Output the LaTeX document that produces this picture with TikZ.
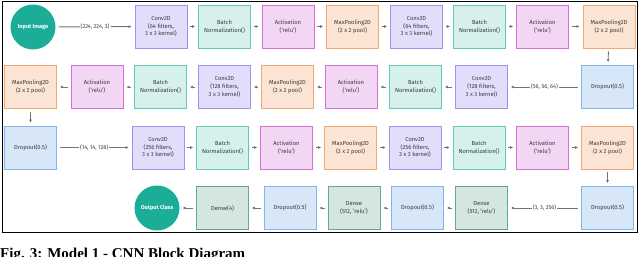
\documentclass[tikz,border=0pt]{standalone}
\usepackage{fontspec}
\setmainfont{Fira Sans}
\usetikzlibrary{arrows.meta}
\definecolor{convF}{HTML}{E2DDFB}\definecolor{convD}{HTML}{A391EE}
\definecolor{bnF}{HTML}{D6F1EC}\definecolor{bnD}{HTML}{62CBB8}
\definecolor{actF}{HTML}{F3D6F3}\definecolor{actD}{HTML}{D570D9}
\definecolor{mpF}{HTML}{FCE4D4}\definecolor{mpD}{HTML}{F3A872}
\definecolor{doF}{HTML}{D7E7F7}\definecolor{doD}{HTML}{82B5E8}
\definecolor{deF}{HTML}{D5E6DE}\definecolor{deD}{HTML}{64A98D}
\definecolor{circ}{HTML}{1CAD99}
\definecolor{arr}{HTML}{6E777D}
\definecolor{txt}{HTML}{3A3A3A}
\tikzset{
  x=1pt,y=1pt,
  blk/.style={rectangle,minimum width=52pt,minimum height=43pt,line width=0.9pt,
    align=center,font=\fontsize{5.8}{7.8}\selectfont,text=txt,inner sep=1pt},
  conv/.style={blk,fill=convF,draw=convD},
  bn/.style={blk,fill=bnF,draw=bnD},
  act/.style={blk,fill=actF,draw=actD},
  mp/.style={blk,fill=mpF,draw=mpD},
  drop/.style={blk,fill=doF,draw=doD},
  dense/.style={blk,fill=deF,draw=deD},
  circnode/.style={circle,fill=circ,minimum size=45pt,inner sep=0pt,text=white,
    font=\fontsize{5.6}{7}\selectfont\bfseries},
  link/.style={draw=arr,line width=0.9pt,-{Latex[length=3pt,width=3pt]},shorten >=3pt,shorten <=3pt},
  lbl/.style={fill=white,inner sep=1pt,font=\fontsize{5.6}{7}\selectfont,text=txt}
}
\begin{document}
\begin{tikzpicture}
\useasboundingbox (0,0) rectangle (640,-257);
\fill[white] (0,0) rectangle (640,-257);
\draw[black,line width=1.8pt] (2.5,-1.5) rectangle (637.5,-232.5);
% Row 1
\node[circnode] (in) at (33,-27) {Input Image};
\node[conv] (c1) at (161,-26.5) {Conv2D\\(64 filters,\\3 x 3 kernel)};
\node[bn] (b1) at (224.5,-26.5) {Batch\\Normalization()};
\node[act] (a1) at (288,-26.5) {Activation\\(`relu')};
\node[mp] (m1) at (352.5,-26.5) {MaxPooling2D\\(2 x 2 pool)};
\node[conv] (c2) at (416.5,-26.5) {Conv2D\\(64 filters,\\3 x 3 kernel)};
\node[bn] (b2) at (479.5,-26.5) {Batch\\Normalization()};
\node[act] (a2) at (542.5,-26.5) {Activation\\(`relu')};
\node[mp] (m2) at (609,-26.5) {MaxPooling2D\\(2 x 2 pool)};
% Row 2
\node[drop] (d1) at (607.5,-87) {Dropout(0.5)};
\node[conv] (c3) at (481.5,-87) {Conv2D\\(128 filters,\\3 x 3 kernel)};
\node[bn] (b3) at (415.5,-87) {Batch\\Normalization()};
\node[act] (a3) at (351,-87) {Activation\\(`relu')};
\node[mp] (m3) at (287.5,-87) {MaxPooling2D\\(2 x 2 pool)};
\node[conv] (c4) at (224.5,-87) {Conv2D\\(128 filters,\\3 x 3 kernel)};
\node[bn] (b4) at (160.5,-87) {Batch\\Normalization()};
\node[act] (a4) at (97,-87) {Activation\\(`relu')};
\node[mp] (m4) at (30.5,-87) {MaxPooling2D\\(2 x 2 pool)};
% Row 3
\node[drop] (d2) at (30.5,-147.5) {Dropout(0.5)};
\node[conv] (c5) at (158,-147.5) {Conv2D\\(256 filters,\\3 x 3 kernel)};
\node[bn] (b5) at (222.5,-147.5) {Batch\\Normalization()};
\node[act] (a5) at (286.5,-147.5) {Activation\\(`relu')};
\node[mp] (m5) at (350.5,-147.5) {MaxPooling2D\\(2 x 2 pool)};
\node[conv] (c6) at (415,-147.5) {Conv2D\\(256 filters,\\3 x 3 kernel)};
\node[bn] (b6) at (479,-147.5) {Batch\\Normalization()};
\node[act] (a6) at (542.5,-147.5) {Activation\\(`relu')};
\node[mp] (m6) at (607.5,-147.5) {MaxPooling2D\\(2 x 2 pool)};
% Row 4
\node[drop] (d3) at (607.5,-208) {Dropout(0.5)};
\node[dense] (e1) at (481.5,-208) {Dense\\(512, `relu')};
\node[drop] (d4) at (417.5,-208) {Dropout(0.5)};
\node[dense] (e2) at (354,-208) {Dense\\(512, `relu')};
\node[drop] (d5) at (290,-208) {Dropout(0.5)};
\node[dense] (e3) at (222.5,-208) {Dense(4)};
\node[circnode] (out) at (157,-208) {Output Class};
% connectors
\draw[link] (in) -- node[lbl]{(224, 224, 3)} (c1);
\foreach \a/\b in {c1/b1,b1/a1,a1/m1,m1/c2,c2/b2,b2/a2,a2/m2,
  c3/b3,b3/a3,a3/m3,m3/c4,c4/b4,b4/a4,a4/m4,
  c5/b5,b5/a5,a5/m5,m5/c6,c6/b6,b6/a6,a6/m6,
  e1/d4,d4/e2,e2/d5,d5/e3,e3/out}
  \draw[link] (\a) -- (\b);
\draw[link] (m2) -- (d1);
\draw[link] (d1) -- node[lbl]{(56, 56, 64)} (c3);
\draw[link] (m4) -- (d2);
\draw[link] (d2) -- node[lbl]{(14, 14, 128)} (c5);
\draw[link] (m6) -- (d3);
\draw[link] (d3) -- node[lbl]{(3, 3, 256)} (e1);
% caption (cut off by the page edge)
\begin{scope}
\clip (0,-236) rectangle (640,-257);
\node[anchor=north west,inner sep=0pt] (cap) at (0,-247.5)
  {\fontspec{Liberation Serif}\fontsize{15}{17}\selectfont\bfseries Fig. 3: Model 1 - CNN Block Diagram};
\end{scope}
\end{tikzpicture}
\end{document}
